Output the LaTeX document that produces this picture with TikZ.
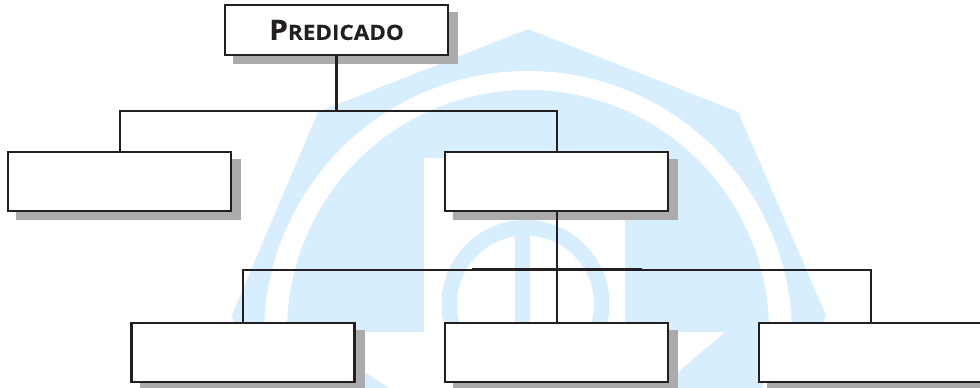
\documentclass[tikz,border=0pt]{standalone}
\usepackage{fontspec}
\setmainfont[FakeStretch=1.07,FakeBold=0.25]{Open Sans}
\usetikzlibrary{shadows}
\definecolor{wm}{HTML}{D6EEFE}
\definecolor{sg}{HTML}{ABABAB}
\definecolor{ink}{HTML}{231F20}
\tikzset{
  panel/.style={draw=ink,fill=white,line width=2.5bp,rectangle,minimum width=223bp,minimum height=59bp,inner sep=0pt,outer sep=0pt,
    general shadow={shadow xshift=9bp,shadow yshift=-8bp,fill=sg,draw=sg,line width=2.2bp}},
  toppanel/.style={panel,minimum height=50bp},
  link/.style={draw=ink,line width=2bp,line join=miter},
  heavy/.style={draw=ink,line width=3bp},
  mid/.style={draw=ink,line width=2.6bp},
  wmfill/.style={fill=wm,draw=none},
  wmgap/.style={fill=white,draw=none}
}
\begin{document}
\begin{tikzpicture}[x=1bp,y=-1bp]
\clip (0,0) rectangle (980,387);
% watermark
\fill[wmfill] (528,29) -- (738,112) -- (826,315) -- (822,325) -- (790,400) -- (266,400) -- (234,325) -- (232,315) -- (318,112) -- cycle;
\fill[wmgap] (528,335) circle (264bp);
\fill[wmfill] (528,331) circle (241bp);
\fill[wmgap] (424,158) rectangle (625,400);
\fill[wmgap] (625,332) -- (725,332) -- (645,400) -- (625,400) -- cycle;
\fill[wmgap] (280,332) -- (424,332) -- (424,400) -- (407,400) -- (305,332) -- cycle;
\fill[wmfill,even odd rule] (525.5,304) circle (84bp) (525.5,304) circle (68.5bp);
\fill[wmfill] (515,230) rectangle (530,330);
% boxes
\node[toppanel,text=ink] (pred) at (336.5,30) {\fontsize{28bp}{28bp}\selectfont\bfseries P\fontsize{21bp}{21bp}\selectfont REDICADO};
\node[panel] (a) at (119.6,181.5) {};
\node[panel] (b) at (556.5,181.5) {};
\node[panel] (c) at (243.2,352.5) {};
\node[panel] (d) at (556.5,352.5) {};
\node[panel] (e) at (870.5,352.5) {};
% junctions
\coordinate (j1) at (336.5,111);
\coordinate (j1l) at (237,111);
\coordinate (j1r) at (366,111);
\coordinate (j2) at (556.5,269.5);
\coordinate (j2l) at (472,269.5);
\coordinate (j2r) at (642,269.5);
% connectors
\draw[heavy] (pred.south) -- (j1);
\draw[link] (a.north) -- (a.north |- j1) -- (b.north |- j1) -- (b.north);
\draw[mid] (j1l) -- (j1r);
\draw[link] (b.south) -- (d.north);
\draw[link] (c.north) -- (c.north |- j2) -- (e.north |- j2) -- (e.north);
\draw[mid] (j2l) -- (j2r);
\end{tikzpicture}
\end{document}
